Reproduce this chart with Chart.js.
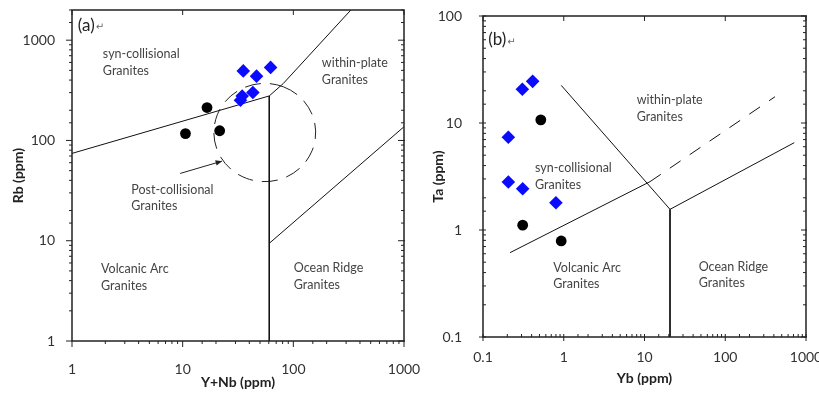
<!DOCTYPE html>
<html>
<head>
<meta charset="utf-8">
<script src="https://cdn.jsdelivr.net/npm/chart.js@4.4.0/dist/chart.umd.min.js"></script>
<style>
  html, body { margin: 0; padding: 0; background: #fff; }
  #chartA { position: absolute; left: 0; top: 0; }
  #chartB { position: absolute; left: 420px; top: 0; }
</style>
</head>
<body>
<canvas id="chartA" width="420" height="393"></canvas>
<canvas id="chartB" width="399" height="393"></canvas>
<script>
// ---- panel (a): Rb vs Y+Nb ----
const aDiamondX = [35.3, 46.5, 62.3, 34.5, 33.3, 43.1];
const aDiamondY = [494, 438, 535, 277, 252, 301];
const aDotX = [16.6, 10.6, 21.6];
const aDotY = [213, 117, 125];
// field boundaries, [x, y] pairs
const aSynVag = [[1, 74.3], [60.6, 278]];
const aVagOrg = [[60.6, 278], [60.6, 1]];
const aWpg = [[60.6, 278], [81.2, 370], [331, 2000]];
const aOrgWpg = [[60.6, 9.42], [1000, 137]];
const aPostCol = { x: 55.2, y: 120, rx: 0.46, ry: 0.49 }; // centre + radii in decades
const aArrow = { from: [9.5, 46.9], to: [22.7, 62.2] };
const aLabels = [
  ['syn-collisional', 1.9, 736], ['Granites', 1.9, 494],
  ['within-plate', 181, 586], ['Granites', 181, 399],
  ['Post-collisional', 3.43, 32], ['Granites', 3.43, 22.1],
  ['Volcanic Arc', 1.83, 5.19], ['Granites', 1.83, 3.53],
  ['Ocean Ridge', 101, 5.3], ['Granites', 101, 3.58]
];

// ---- panel (b): Ta vs Yb ----
const bDiamondX = [0.206, 0.307, 0.412, 0.206, 0.31, 0.8];
const bDiamondY = [7.35, 20.7, 24.5, 2.81, 2.43, 1.8];
const bDotX = [0.52, 0.31, 0.93];
const bDotY = [10.7, 1.11, 0.79];
const bSynVag = [[0.216, 0.614], [11.7, 2.83]];
const bSynWpgDash = [[11.7, 2.83], [413, 17.6]];
const bWpgDiag = [[0.93, 22.5], [20.7, 1.56]];
const bVagOrg = [[20.7, 1.56], [20.7, 0.1]];
const bOrgWpg = [[20.7, 1.56], [716, 6.55]];
const bLabels = [
  ['within-plate', 8.0, 16.4], ['Granites', 8.0, 11.4],
  ['syn-collisional', 0.44, 3.79], ['Granites', 0.44, 2.63],
  ['Volcanic Arc', 0.743, 0.438], ['Granites', 0.743, 0.31],
  ['Ocean Ridge', 46.9, 0.454], ['Granites', 46.9, 0.322]
];

const FONT = "Lato, 'DejaVu Sans', sans-serif";

const isDecade = v => Math.abs(Math.log10(v) - Math.round(Math.log10(v))) < 1e-6;
const decadeLabel = v => isDecade(v) ? String(+Number(v).toPrecision(6)) : '';

function points(xs, ys) { return xs.map((x, i) => ({ x: x, y: ys[i] })); }
function pairs(p) { return p.map(d => ({ x: d[0], y: d[1] })); }

function lineSet(p, dash) {
  return { data: pairs(p), showLine: true, pointRadius: 0, borderColor: '#111',
           borderWidth: 1, borderDash: dash || [], fill: false };
}

const decor = {
  id: 'decor',
  beforeDatasetsDraw(chart, args, o) {
    const { ctx, chartArea: a, scales: { x, y } } = chart;
    ctx.save();
    ctx.beginPath(); ctx.rect(a.left, a.top, a.width, a.height); ctx.clip();
    ctx.strokeStyle = '#222'; ctx.lineWidth = 1;
    if (o.ellipse) {
      const e = o.ellipse;
      const cx = x.getPixelForValue(e.x), cy = y.getPixelForValue(e.y);
      const rx = x.getPixelForValue(e.x * Math.pow(10, e.rx)) - cx;
      const ry = cy - y.getPixelForValue(e.y * Math.pow(10, e.ry));
      ctx.setLineDash([16, 9]);
      ctx.beginPath(); ctx.ellipse(cx, cy, rx, ry, 0, -1.2, 2 * Math.PI - 1.2); ctx.stroke();
      ctx.setLineDash([]);
    }
    if (o.arrow) {
      const x0 = x.getPixelForValue(o.arrow.from[0]), y0 = y.getPixelForValue(o.arrow.from[1]);
      const x1 = x.getPixelForValue(o.arrow.to[0]), y1 = y.getPixelForValue(o.arrow.to[1]);
      ctx.beginPath(); ctx.moveTo(x0, y0); ctx.lineTo(x1, y1); ctx.stroke();
      const ang = Math.atan2(y1 - y0, x1 - x0);
      ctx.beginPath();
      ctx.moveTo(x1, y1);
      ctx.lineTo(x1 - 7 * Math.cos(ang - 0.4), y1 - 7 * Math.sin(ang - 0.4));
      ctx.lineTo(x1 - 7 * Math.cos(ang + 0.4), y1 - 7 * Math.sin(ang + 0.4));
      ctx.closePath(); ctx.fillStyle = '#222'; ctx.fill();
    }
    ctx.restore();
  },
  afterDraw(chart, args, o) {
    const { ctx, chartArea: a, scales: { x, y } } = chart;
    ctx.save();
    // region labels
    ctx.fillStyle = '#444';
    ctx.font = '12.5px ' + FONT;
    ctx.textAlign = 'left'; ctx.textBaseline = 'middle';
    (o.labels || []).forEach(l => ctx.fillText(l[0], x.getPixelForValue(l[1]), y.getPixelForValue(l[2])));
    // panel tag
    if (o.tag) {
      ctx.fillStyle = '#222';
      ctx.font = '17px ' + FONT;
      const tx = x.getPixelForValue(o.tag[1]), ty = y.getPixelForValue(o.tag[2]);
      ctx.fillText(o.tag[0], tx, ty);
      const w = ctx.measureText(o.tag[0]).width;
      ctx.font = '10px ' + FONT;
      ctx.fillStyle = '#666';
      ctx.fillText('\u21B5', tx + w + 1, ty + 2);
    }
    // frame
    ctx.strokeStyle = '#222'; ctx.lineWidth = 1.5;
    ctx.strokeRect(a.left, a.top, a.width, a.height);
    // tick marks on all four sides
    ctx.lineWidth = 1;
    const t = o.ticks;
    const mark = (side, p, major) => {
      const s = t[side][major ? 1 : 0];
      if (!s[0] && !s[1]) return;
      ctx.beginPath();
      if (side === 'bottom') { ctx.moveTo(p, a.bottom - s[0]); ctx.lineTo(p, a.bottom + s[1]); }
      if (side === 'top') { ctx.moveTo(p, a.top + s[0]); ctx.lineTo(p, a.top - s[1]); }
      if (side === 'left') { ctx.moveTo(a.left + s[0], p); ctx.lineTo(a.left - s[1], p); }
      if (side === 'right') { ctx.moveTo(a.right - s[0], p); ctx.lineTo(a.right + s[1], p); }
      ctx.stroke();
    };
    x.ticks.forEach(tk => {
      const v = tk.value; if (v < x.min || v > x.max) return;
      const p = x.getPixelForValue(v), m = isDecade(v);
      mark('bottom', p, m); mark('top', p, m);
    });
    y.ticks.forEach(tk => {
      const v = tk.value; if (v < y.min || v > y.max) return;
      const p = y.getPixelForValue(v), m = isDecade(v);
      mark('left', p, m); mark('right', p, m);
    });
    ctx.restore();
  }
};

function makeChart(id, cfg) {
  return new Chart(document.getElementById(id), {
    type: 'scatter',
    data: {
      datasets: [
        { data: cfg.diamonds, pointStyle: 'rectRot', pointRadius: 6.8, backgroundColor: '#0a0aff',
          borderColor: '#0a0aff', borderWidth: 0 },
        { data: cfg.dots, pointStyle: 'circle', pointRadius: 5.4, backgroundColor: '#000',
          borderColor: '#000', borderWidth: 0 }
      ].concat(cfg.lines)
    },
    plugins: [decor],
    options: {
      responsive: false,
      animation: false,
      layout: { padding: cfg.pad },
      plugins: {
        legend: { display: false },
        tooltip: { enabled: false },
        decor: { labels: cfg.labels, tag: cfg.tag, ticks: cfg.ticks, ellipse: cfg.ellipse, arrow: cfg.arrow }
      },
      scales: {
        x: {
          type: 'logarithmic', min: cfg.xRange[0], max: cfg.xRange[1],
          grid: { display: false }, border: { display: false },
          ticks: { autoSkip: false, maxRotation: 0, padding: cfg.xPad, color: '#333',
                   font: { family: FONT, size: 14 }, callback: decadeLabel },
          title: { display: true, text: cfg.xTitle, color: '#222',
                   font: { family: FONT, size: 14, weight: 'bold' }, padding: { top: 0, bottom: cfg.xTitlePad } },
          afterFit: s => { s.height = cfg.xHeight; s.paddingLeft = 0; s.paddingRight = 0; }
        },
        y: {
          type: 'logarithmic', min: cfg.yRange[0], max: cfg.yRange[1],
          grid: { display: false }, border: { display: false },
          ticks: { autoSkip: false, padding: cfg.yPad, color: '#333',
                   font: { family: FONT, size: 14 }, callback: decadeLabel },
          title: { display: true, text: cfg.yTitle, color: '#222',
                   font: { family: FONT, size: 14, weight: 'bold' }, padding: { top: 9.6, bottom: 0 } },
          afterFit: s => { s.width = cfg.yWidth; s.paddingTop = 0; s.paddingBottom = 0; }
        }
      }
    }
  });
}

makeChart('chartA', {
  diamonds: points(aDiamondX, aDiamondY),
  dots: points(aDotX, aDotY),
  lines: [lineSet(aSynVag), lineSet(aVagOrg), lineSet(aWpg), lineSet(aOrgWpg)],
  labels: aLabels,
  tag: ['(a)', 1.13, 1410],
  ellipse: aPostCol,
  arrow: aArrow,
  xRange: [1, 1000], yRange: [1, 2000],
  xTitle: 'Y+Nb (ppm)', yTitle: 'Rb (ppm)',
  pad: { top: 10, right: 16, left: 0, bottom: 0 },
  xHeight: 52, yWidth: 72, xPad: 12, yPad: 9, xTitlePad: 2,
  ticks: { bottom: [[0, 3], [0, 6]], left: [[0, 3], [0, 6]],
           top: [[0, 0], [5, 0]], right: [[3, 0], [6, 1]] }
});

makeChart('chartB', {
  diamonds: points(bDiamondX, bDiamondY),
  dots: points(bDotX, bDotY),
  lines: [lineSet(bSynVag), lineSet(bSynWpgDash, [13, 11]), lineSet(bWpgDiag),
          lineSet(bVagOrg), lineSet(bOrgWpg)],
  labels: bLabels,
  tag: ['(b)', 0.116, 59.7],
  xRange: [0.1, 1000], yRange: [0.1, 100],
  xTitle: 'Yb (ppm)', yTitle: 'Ta (ppm)',
  pad: { top: 16, right: 13, left: 0, bottom: 0 },
  xHeight: 56, yWidth: 63, xPad: 4, yPad: 13, xTitlePad: 6.6,
  ticks: { bottom: [[3, 0], [3, 4]], left: [[3, 0], [3, 4]],
           top: [[0, 0], [5, 0]], right: [[3, 0], [5, 1]] }
});
</script>
</body>
</html>
